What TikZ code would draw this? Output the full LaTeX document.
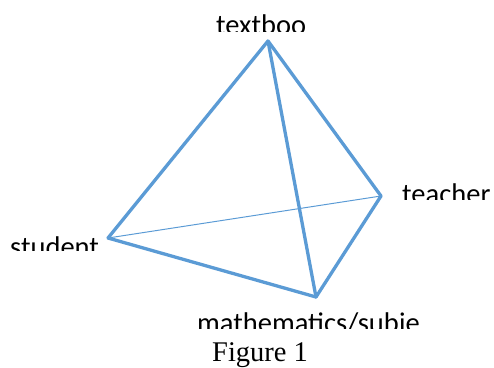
\documentclass[tikz,border=0pt]{standalone}
\usepackage{fontspec}
\setmainfont{Liberation Serif}
\newfontfamily\lblfont{Carlito}
\definecolor{edgeblue}{HTML}{5B9BD5}
\tikzset{
  thickedge/.style={draw=edgeblue, line width=3.3pt, line join=round, line cap=round},
  thinedge/.style={draw=edgeblue, line width=1pt},
  lbl/.style={inner sep=0pt, anchor=base west, font=\lblfont\fontsize{28.5}{30}\selectfont},
  caption/.style={inner sep=0pt, anchor=base west, font=\fontsize{28.5}{30}\selectfont}
}
\begin{document}
\begin{tikzpicture}[x=1pt,y=-1pt]
\useasboundingbox (0,0) rectangle (494,367);
\coordinate (T) at (268,41);
\coordinate (L) at (108,238);
\coordinate (R) at (381,196);
\coordinate (B) at (316,297);
\draw[thinedge] (L) -- (R);
\draw[thickedge] (T) -- (L);
\draw[thickedge] (T) -- (B);
\draw[thickedge] (T) -- (R);
\draw[thickedge] (L) -- (B);
\draw[thickedge] (R) -- (B);
\begin{scope}
\clip (200,0) rectangle (340,31);
\node[lbl] (textbook) at (216,34) {textboo};
\end{scope}
\begin{scope}
\clip (0,220) rectangle (110,250);
\node[lbl] (student) at (10,256) {student};
\end{scope}
\begin{scope}
\clip (395,170) rectangle (494,199);
\node[lbl] (teacher) at (402,203) {teacher};
\end{scope}
\begin{scope}
\clip (190,300) rectangle (424,328);
\node[lbl] (subject) at (197,332) {mathematics/subje};
\end{scope}
\node[caption] (fig) at (212,361) {Figure 1};
\end{tikzpicture}
\end{document}
